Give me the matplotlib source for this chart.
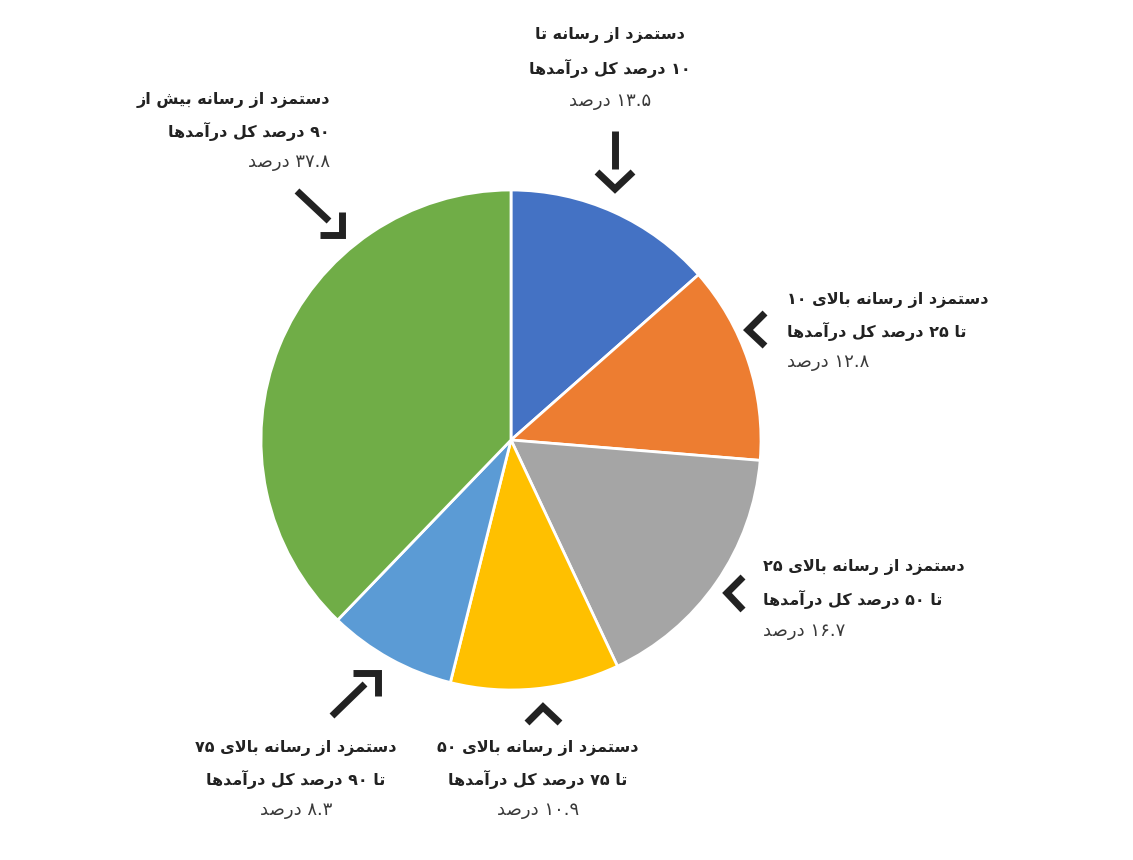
import re
import matplotlib
matplotlib.use("Agg")
import matplotlib.pyplot as plt

# slice data, clockwise from the top
values = [13.5, 12.8, 16.7, 10.9, 8.3, 37.8]
line1 = [
    "دستمزد از رسانه تا",
    "دستمزد از رسانه بالای ۱۰",
    "دستمزد از رسانه بالای ۲۵",
    "دستمزد از رسانه بالای ۵۰",
    "دستمزد از رسانه بالای ۷۵",
    "دستمزد از رسانه بیش از",
]
line2 = [
    "۱۰ درصد کل درآمدها",
    "تا ۲۵ درصد کل درآمدها",
    "تا ۵۰ درصد کل درآمدها",
    "تا ۷۵ درصد کل درآمدها",
    "تا ۹۰ درصد کل درآمدها",
    "۹۰ درصد کل درآمدها",
]
unit = "درصد"
colors = ["#4472C4", "#ED7D31", "#A5A5A5", "#FFC000", "#5B9BD5", "#70AD47"]

# ---- tiny arabic shaper (matplotlib has no shaping / bidi) ----
FORMS = {
    "ا": ("\uFE8D", "\uFE8E", None, None),
    "آ": ("\uFE81", "\uFE82", None, None),
    "ب": ("\uFE8F", "\uFE90", "\uFE91", "\uFE92"),
    "ت": ("\uFE95", "\uFE96", "\uFE97", "\uFE98"),
    "د": ("\uFEA9", "\uFEAA", None, None),
    "ر": ("\uFEAD", "\uFEAE", None, None),
    "ز": ("\uFEAF", "\uFEB0", None, None),
    "س": ("\uFEB1", "\uFEB2", "\uFEB3", "\uFEB4"),
    "ش": ("\uFEB5", "\uFEB6", "\uFEB7", "\uFEB8"),
    "ص": ("\uFEB9", "\uFEBA", "\uFEBB", "\uFEBC"),
    "ل": ("\uFEDD", "\uFEDE", "\uFEDF", "\uFEE0"),
    "م": ("\uFEE1", "\uFEE2", "\uFEE3", "\uFEE4"),
    "ن": ("\uFEE5", "\uFEE6", "\uFEE7", "\uFEE8"),
    "ه": ("\uFEE9", "\uFEEA", "\uFEEB", "\uFEEC"),
    "ک": ("\uFB8E", "\uFB8F", "\uFB90", "\uFB91"),
    "ی": ("\uFBFC", "\uFBFD", "\uFBFE", "\uFBFF"),
}
NO_NEXT = set("اآدذرزژو")
LAMALEF = {"ا": ("\uFEFB", "\uFEFC"), "آ": ("\uFEF5", "\uFEF6")}
DIGITS = "0123456789۰۱۲۳۴۵۶۷۸۹."


def shape(text):
    out = []
    i, n = 0, len(text)
    while i < n:
        c = text[i]
        if c not in FORMS:
            out.append(c)
            i += 1
            continue
        prev = text[i - 1] if i > 0 else ""
        jp = prev in FORMS and prev not in NO_NEXT
        if c == "ل" and i + 1 < n and text[i + 1] in LAMALEF:
            out.append(LAMALEF[text[i + 1]][1 if jp else 0])
            i += 2
            continue
        nxt = text[i + 1] if i + 1 < n else ""
        jn = c not in NO_NEXT and nxt in FORMS
        iso, fin, ini, med = FORMS[c]
        out.append(med if jp and jn else fin if jp else ini if jn else iso)
        i += 1
    return "".join(out)


def rtl(text):
    s = shape(text)
    runs = re.findall(r"[%s]+|[^%s]+" % (re.escape(DIGITS), re.escape(DIGITS)), s)
    return "".join(r if r[0] in DIGITS else r[::-1] for r in reversed(runs))


def fa_num(v):
    return str(v).translate(str.maketrans("0123456789", "۰۱۲۳۴۵۶۷۸۹"))


W, H = 1133, 860
fig = plt.figure(figsize=(W / 100, H / 100), dpi=100)
ax = fig.add_axes([0, 0, 1, 1])

ax.pie(values, colors=colors, startangle=90, counterclock=False,
       center=(511, H - 440), radius=250,
       wedgeprops=dict(edgecolor="white", linewidth=2))
ax.set_xlim(0, W)
ax.set_ylim(0, H)
ax.set_aspect("equal")
ax.axis("off")

# label anchor (x, y of first line), alignment
label_pos = [(610, 35, "center"), (787, 300, "left"), (763, 567, "left"),
             (538, 748, "center"), (296, 748, "center"), (330, 100, "right")]
step = [33, 31, 32, 31, 31, 31]

bold = dict(fontsize=11.5, fontweight="bold", color="#222222",
            family="DejaVu Sans")
light = dict(fontsize=13, color="#3a3a3a", family="DejaVu Sans")

for k, (x, y, ha) in enumerate(label_pos):
    s = step[k]
    ax.text(x, H - y, rtl(line1[k]), ha=ha, va="center", **bold)
    ax.text(x, H - y - s, rtl(line2[k]), ha=ha, va="center", **bold)
    ax.text(x, H - y - 2 * s, rtl(fa_num(values[k]) + " " + unit), ha=ha,
            va="center", **light)

# arrow glyphs pointing at the slices
arrows = [
    [[(615, 131), (615, 169)], [(597, 172), (615, 189), (633, 172)]],
    [[(765, 313), (748, 330), (765, 346)]],
    [[(743, 577), (727, 593), (743, 610)]],
    [[(527, 723), (543, 707), (560, 723)]],
    [[(332, 716), (365, 684)], [(353, 673), (378, 673), (378, 696)]],
    [[(297, 191), (329, 221)], [(342, 212), (342, 235), (320, 235)]],
]
for parts in arrows:
    for pts in parts:
        xs = [p[0] for p in pts]
        ys = [H - p[1] for p in pts]
        ax.plot(xs, ys, color="#222222", lw=5, solid_capstyle="butt",
                solid_joinstyle="miter")

fig.savefig("out.png", dpi=100)
